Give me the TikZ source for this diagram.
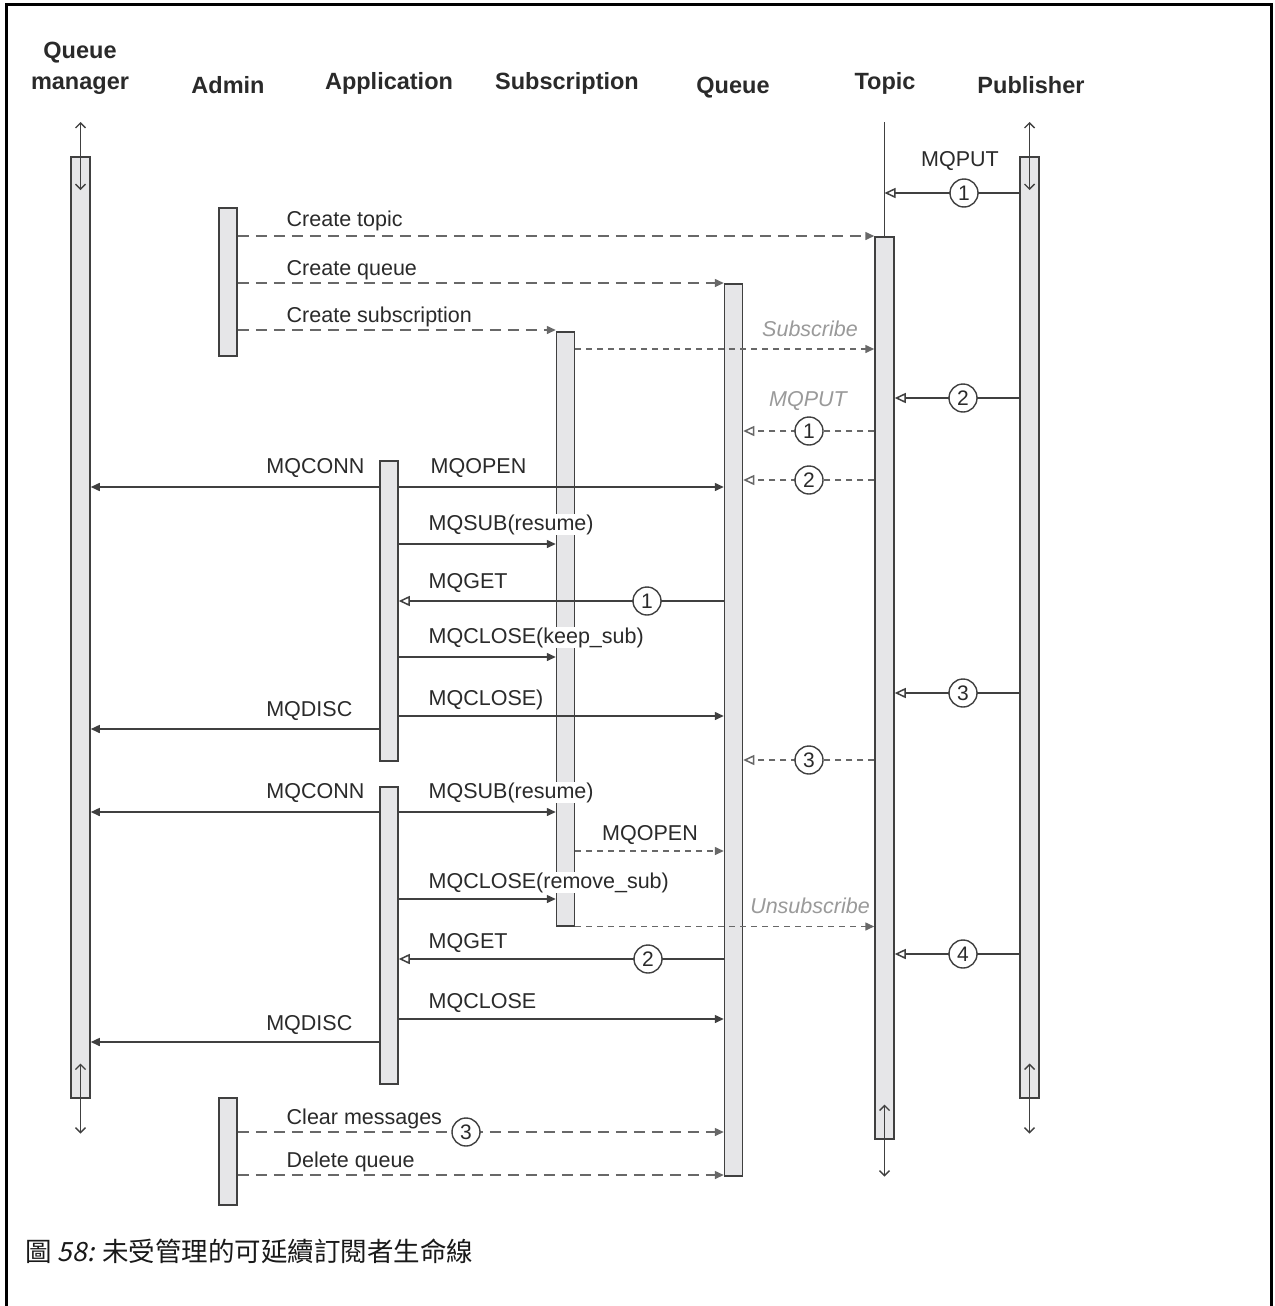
\documentclass[tikz,border=0pt]{standalone}
\usepackage{fontspec}
\setmainfont{Liberation Sans}
\newfontfamily\cjk{Noto Sans CJK TC}
\newfontfamily\cjkit{Noto Sans CJK TC}[FakeSlant=0.2]
\usetikzlibrary{arrows.meta}
\definecolor{ln}{HTML}{404040}
\definecolor{dln}{HTML}{686868}
\definecolor{barfill}{HTML}{E6E6E8}
\definecolor{txt}{HTML}{2A2A2A}
\definecolor{gtxt}{HTML}{9A9A9A}
\begin{document}
\begin{tikzpicture}[x=1pt,y=-1pt,
 bar/.style={draw=ln, line width=1.5pt, fill=barfill, inner sep=0pt, minimum width=18pt, anchor=north},
 hdr/.style={font=\fontsize{23.5}{28}\selectfont\bfseries, text=txt, inner sep=0pt, anchor=base},
 lbl/.style={font=\fontsize{21.5}{26}\selectfont, text=txt, inner sep=0.5pt, fill=white, anchor=base west},
 lblr/.style={lbl, anchor=base east},
 lblc/.style={lbl, anchor=base},
 glbl/.style={font=\fontsize{21.5}{26}\selectfont\itshape, text=gtxt, inner sep=0.5pt, fill=white, anchor=base},
 msg/.style={draw=ln, line width=1.5pt, -{Triangle[length=9pt,width=8pt]}},
 omsg/.style={draw=ln, line width=1.5pt, -{Triangle[open,length=11pt,width=10pt]}},
 adm/.style={draw=dln, line width=1.5pt, dash pattern=on 11pt off 7pt, -{Triangle[length=9pt,width=8pt]}},
 sdash/.style={draw=dln, line width=1.5pt, dash pattern=on 6pt off 5pt, -{Triangle[length=9pt,width=8pt]}},
 odash/.style={draw=dln, line width=1.5pt, dash pattern=on 6pt off 5pt, -{Triangle[open,length=11pt,width=10pt]}},
 circ/.style={circle, draw=ln, line width=1.4pt, fill=white, minimum size=28pt, inner sep=0pt, font=\fontsize{21}{21}\selectfont, text=txt},
 life/.style={draw=ln, line width=1.4pt, {Straight Barb[length=5pt,width=10pt]}-{Straight Barb[length=5pt,width=10pt]}},
 plain/.style={draw=ln, line width=1.4pt},
]
\fill[white] (0,0) rectangle (1274,1306);
\useasboundingbox (0,0) rectangle (1274,1306);
\draw[line width=3pt] (6,1306) -- (6,5) -- (1271,5) -- (1271,1306);

% headers
\node[hdr] (h1a) at (80,59) {Queue};
\node[hdr] (h1b) at (80,89) {manager};
\node[hdr] (h2) at (228,93) {Admin};
\node[hdr] (h3) at (389,89) {Application};
\node[hdr] (h4) at (567,89) {Subscription};
\node[hdr] (h5) at (733,93) {Queue};
\node[hdr] (h6) at (885,89) {Topic};
\node[hdr] (h7) at (1031,93) {Publisher};

% bars
\node[bar, minimum width=19pt, minimum height=941pt] (qm) at (80.5,156) {};
\node[bar, minimum height=148pt] (adm1) at (228,207) {};
\node[bar, minimum height=107pt] (adm2) at (228,1097) {};
\node[bar, minimum height=300pt] (app1) at (389,460) {};
\node[bar, minimum height=297pt] (app2) at (389,786) {};
\node[bar, minimum height=594pt] (sub) at (565.5,331) {};
\node[bar, minimum height=892pt] (que) at (733.5,283) {};
\node[bar, minimum width=19pt, minimum height=902pt] (top) at (884.5,236) {};
\node[bar, minimum width=19pt, minimum height=941pt] (pub) at (1029.5,156) {};

% lifeline ends
\draw[life] ([yshift=34pt]qm.north) -- ([yshift=-34pt]qm.north);
\draw[life] ([yshift=35pt]qm.south) -- ([yshift=-35pt]qm.south);
\draw[life] ([yshift=34pt]pub.north) -- ([yshift=-34pt]pub.north);
\draw[life] ([yshift=35pt]pub.south) -- ([yshift=-35pt]pub.south);
\draw[life] ([yshift=35pt]top.south) -- ([yshift=-37pt]top.south);
\draw[plain] ([yshift=114pt]top.north) -- (top.north);

% messages
\draw[omsg] (pub.west |- 0,193) -- (top.north |- 0,193);
\node[circ] (c1) at (964,193) {1};
\node[lblc] (l1) at (960,166) {MQPUT};

\draw[adm] (adm1.east |- 0,236) -- (top.west |- 0,236);
\node[lbl] (l2) at (286,226) {Create topic};
\draw[adm] (adm1.east |- 0,283) -- (que.west |- 0,283);
\node[lbl] (l3) at (286,275) {Create queue};
\draw[adm] (adm1.east |- 0,330) -- (sub.west |- 0,330);
\node[lbl] (l4) at (286,322) {Create subscription};

\draw[sdash] (sub.east |- 0,349) -- (top.west |- 0,349);
\node[glbl] (l5) at (810,336) {Subscribe};

\draw[omsg] (pub.west |- 0,398) -- (top.east |- 0,398);
\node[circ] (c2) at (963,398) {2};

\node[glbl] (l6) at (808,406) {MQPUT};
\draw[odash] (top.west |- 0,431) -- (que.east |- 0,431);
\node[circ] (c3) at (809,431) {1};
\draw[odash] (top.west |- 0,480) -- (que.east |- 0,480);
\node[circ] (c4) at (809,480) {2};

\draw[msg] (app1.west |- 0,487) -- (qm.east |- 0,487);
\draw[msg] (app1.east |- 0,487) -- (que.west |- 0,487);
\node[lblr] (l7) at (365,473) {MQCONN};
\node[lbl] (l8) at (430,473) {MQOPEN};

\draw[msg] (app1.east |- 0,544) -- (sub.west |- 0,544);
\node[lbl] (l9) at (428,530) {MQSUB(resume)};

\draw[omsg] (que.west |- 0,601) -- (app1.east |- 0,601);
\node[circ] (c5) at (647,601) {1};
\node[lbl] (l10) at (428,588) {MQGET};

\draw[msg] (app1.east |- 0,657) -- (sub.west |- 0,657);
\node[lbl] (l11) at (428,643) {MQCLOSE(keep\_sub)};

\draw[msg] (app1.east |- 0,716) -- (que.west |- 0,716);
\node[lbl] (l12) at (428,705) {MQCLOSE)};
\draw[msg] (app1.west |- 0,729) -- (qm.east |- 0,729);
\node[lblr] (l13) at (353,716) {MQDISC};

\draw[omsg] (pub.west |- 0,693) -- (top.east |- 0,693);
\node[circ] (c6) at (963,693) {3};

\draw[odash] (top.west |- 0,760) -- (que.east |- 0,760);
\node[circ] (c7) at (809,760) {3};

\draw[msg] (app2.west |- 0,812) -- (qm.east |- 0,812);
\draw[msg] (app2.east |- 0,812) -- (sub.west |- 0,812);
\node[lblr] (l14) at (365,798) {MQCONN};
\node[lbl] (l15) at (428,798) {MQSUB(resume)};

\draw[sdash] (sub.east |- 0,851) -- (que.west |- 0,851);
\node[lblc] (l16) at (650,840) {MQOPEN};

\draw[msg] (app2.east |- 0,899) -- (sub.west |- 0,899);
\node[lbl] (l17) at (428,888) {MQCLOSE(remove\_sub)};

\draw[sdash] (sub.south east) -- (top.west |- sub.south east);
\node[glbl] (l18) at (810,913) {Unsubscribe};

\draw[omsg] (que.west |- 0,959) -- (app2.east |- 0,959);
\node[circ] (c8) at (648,959) {2};
\node[lbl] (l19) at (428,948) {MQGET};

\draw[omsg] (pub.west |- 0,954) -- (top.east |- 0,954);
\node[circ] (c9) at (963,954) {4};

\draw[msg] (app2.east |- 0,1019) -- (que.west |- 0,1019);
\node[lbl] (l20) at (428,1008) {MQCLOSE};
\draw[msg] (app2.west |- 0,1042) -- (qm.east |- 0,1042);
\node[lblr] (l21) at (353,1030) {MQDISC};

\draw[adm] (adm2.east |- 0,1132) -- (que.west |- 0,1132);
\node[circ] (c10) at (466,1132) {3};
\node[lbl] (l22) at (286,1124) {Clear messages};
\draw[adm] (adm2.east |- 0,1175) -- (que.west |- 0,1175);
\node[lbl] (l23) at (286,1167) {Delete queue};

% caption
\node[inner sep=0pt, anchor=base west, font=\fontsize{26.5}{30}\cjk, text=black!90] (cap) at (25,1261) {圖 {\cjkit 58:} 未受管理的可延續訂閱者生命線};
\end{tikzpicture}
\end{document}
